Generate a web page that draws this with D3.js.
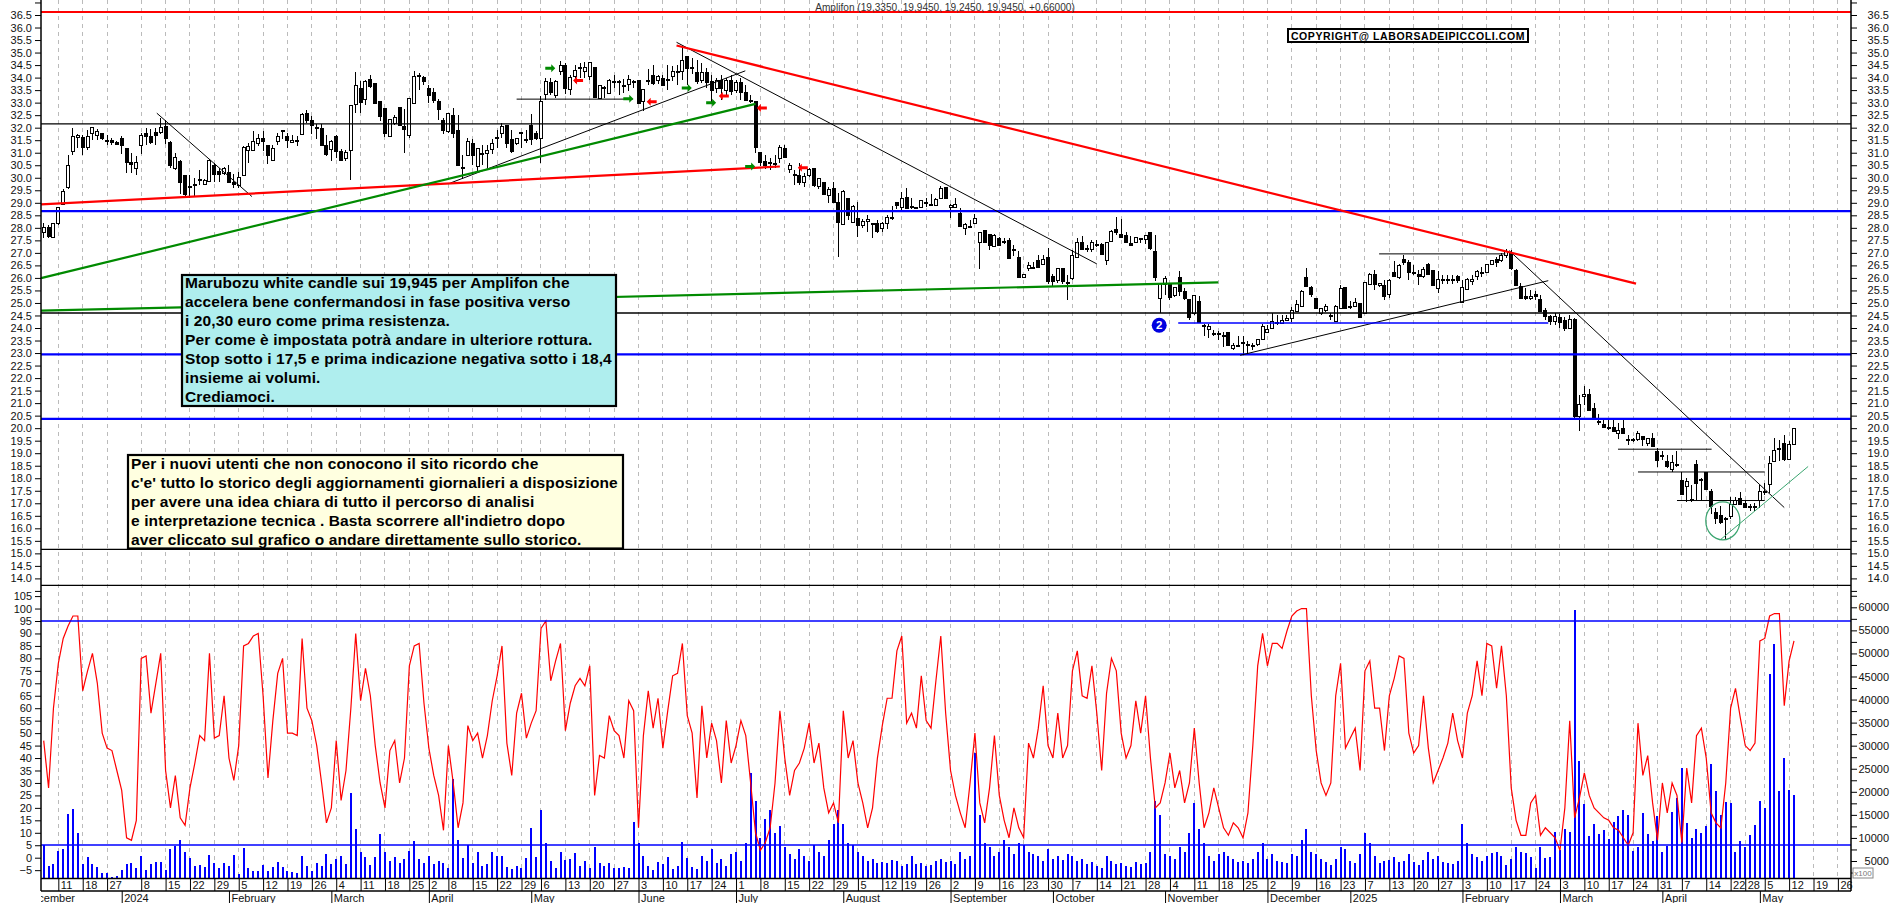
<!DOCTYPE html>
<html>
<head>
<meta charset="utf-8">
<title>Amplifon</title>
<script src="https://cdn.jsdelivr.net/npm/d3@7"></script>
<style>
  body { margin: 0; background: #fff; }
  svg { display: block; }
  text { font-family: "Liberation Sans", Arial, sans-serif; }
  .axis text { font-size: 11px; fill: #111; }
  .note { font-size: 15.5px; font-weight: bold; fill: #000; letter-spacing: 0.11px; }
</style>
</head>
<body>
<svg id="chart" width="1890" height="903"></svg>
<script>
// daily candles, one value per trading day
const opens = [
27.83,28,27.6,28.17,28.95,29.6,31.05,31.6,31.6,31.2,31.75,31.7,31.75,31.5,31.48,31.4,31.55,31.15,30.6,30.35,
31.3,31.75,31.65,31.8,31.8,32.05,31.4,30.35,30.65,30.1,29.67,29.75,29.95,29.75,29.87,30.5,30.25,30.18,30.2,29.83,
29.7,30.1,31.1,31.1,31.35,31.58,31.3,30.7,31.45,31.88,31.65,31.4,31.5,31.72,32.55,32.28,32,31.98,31.27,31.12,
31.63,31.05,30.78,31.09,32.94,33.55,33.14,33.93,33.75,33.03,32.75,31.65,32.15,32.8,32.04,31.7,32.98,34.1,34,33.55,
33.4,33.03,32.27,31.83,32.5,31.9,30.4,30.9,31.38,30.45,30.95,30.95,31.12,31.62,31.75,32.07,31.52,31.35,31.8,31.52,
32.1,31.75,31.58,33.33,33.8,33.28,34.25,34.5,33.53,34.04,34.4,34.25,34.05,34.42,33.18,33.62,33.38,33.85,33.85,33.7,
33.72,33.85,33.87,33.05,33.88,34.08,33.88,33.98,33.92,34.05,34.25,34.25,34.83,34.4,34.22,33.9,34.2,33.85,33.55,33.9,
33.5,33.9,33.5,33.8,33.4,33.1,33.03,31.02,30.65,30.6,30.57,30.78,31.18,30.34,30.12,30.09,29.82,30.09,30.38,29.65,
29.82,29.3,29.56,29.01,28.12,29.19,28.22,28.39,28.1,28.25,28.17,28.19,27.99,28.16,28.43,29,28.83,29.22,28.84,28.82,
28.81,29.02,28.94,28.91,29.19,29.62,28.83,28.8,28.56,27.98,28.06,28.16,27.42,27.88,27.72,27.26,27.56,27.47,27.48,27.12,
26.83,26.03,26.36,26.4,26.7,26.53,26.8,26.06,25.89,26.37,25.83,25.99,26.82,27.43,27.17,27.13,27.33,27.35,26.71,27.47,
27.92,27.72,27.71,27.37,27.42,27.58,27.55,27.83,27.07,25.16,25.73,25.73,25.3,26.03,25.44,25.12,24.56,25.04,24.1,23.94,
23.8,23.78,23.7,23.84,23.18,23.3,23.44,23.35,23.31,23.35,23.56,23.83,23.97,24.2,24.17,24.28,24.36,24.66,24.86,26.03,
25.63,25.16,24.56,24.69,24.5,24.27,24.76,25.63,24.87,24.84,24.96,24.57,25.72,26.15,25.68,25.69,25.33,26.23,26,26.75,
26.6,26.2,26.13,26.04,26.54,26.29,25.56,25.94,25.94,25.94,26.04,25.03,25.53,25.87,26.04,26.2,26.2,26.53,26.75,26.7,
26.9,27,26.29,25.66,25.27,25.16,25.33,25.13,24.7,24.45,24.25,24.4,24.3,24,24.35,20.47,21.26,21.34,20.78,20.25,
20.16,20.03,20.03,19.8,19.98,19.56,19.54,19.53,19.67,19.4,19.57,19.07,18.92,18.67,18.33,18.55,17.89,17.69,17.17,18.53,
17.95,18.22,17.49,16.63,16.53,16.41,16.46,16.97,17.2,16.99,16.86,16.86,17.1,17.46,17.76,18.67,19.17,19.4,18.76,19.35];
const highs = [
28.2,28.1,28.2,28.8,29.55,30.9,32,31.75,31.7,31.9,32,31.95,31.75,31.7,31.6,31.45,31.65,31.2,31,30.85,
31.8,32,31.95,32,32.4,32.3,31.45,31,30.7,30.1,30.1,30,30.3,29.95,30.75,30.6,30.4,30.42,30.5,30.15,
30.25,31.25,31.4,31.85,31.75,31.85,31.3,31.3,31.8,31.9,31.78,31.7,31.65,32.58,32.72,32.45,32.15,32.15,31.7,31.5,
31.72,31.15,31.1,32.9,34.24,33.85,33.9,34.1,33.75,33.05,32.75,32.35,32.5,32.8,32.75,33.2,34.25,34.2,34.05,33.7,
33.6,33.15,32.4,32.6,32.78,32.5,30.9,31.6,31.55,31.2,31.3,31.3,31.55,31.9,32.2,32.07,31.9,31.55,31.82,31.9,
32.55,31.85,33.25,34,34,33.9,34.68,34.6,34.1,34.5,34.6,34.62,34.62,34.42,33.7,33.65,33.95,34.1,33.9,33.95,
34.1,33.9,33.9,33.55,34.35,34.5,34.1,34.1,34.5,34.45,34.5,35.2,34.85,34.8,34.7,34.6,34.4,34.1,34,34.1,
34,34.1,33.9,34,33.7,33.3,33.05,31.02,30.9,30.8,30.9,31.3,31.3,30.6,30.3,30.58,30.2,30.4,30.4,30,
29.85,29.65,29.85,29.4,29.5,29.2,28.9,29.05,28.35,28.5,28.2,28.32,28.25,28.5,28.88,29.05,29.42,29.58,29.2,28.84,
29.12,29.2,29.35,29.2,29.69,29.65,28.95,29.2,28.8,28.2,28.32,28.55,27.85,27.9,27.75,27.75,27.65,27.6,27.6,27.33,
27.06,26.15,26.65,26.65,26.9,26.9,27.19,26.17,26.4,26.4,26.1,27.1,27.59,27.66,27.32,27.52,27.53,27.4,27.45,27.9,
28.45,28.35,27.85,27.66,27.65,27.6,27.7,27.85,27.72,25.8,26.06,25.75,25.65,26.29,25.6,25.15,25.3,25.26,24.15,24.17,
23.93,23.87,23.85,23.86,23.4,23.7,23.7,23.47,23.4,23.55,24.17,24.13,24.6,24.53,24.53,24.53,24.84,25.1,25.53,26.4,
25.66,25.18,24.8,24.97,24.6,24.93,25.73,25.65,25.06,25.2,24.98,25.85,26.2,26.33,25.8,25.9,25.95,26.66,26.55,26.9,
26.7,26.5,26.3,26.43,26.6,26.3,26.26,26.13,26.13,26.13,26.13,25.9,26,26.13,26.33,26.44,26.55,26.7,26.85,27,
27.15,27.1,26.35,25.8,25.6,25.53,25.47,25.33,24.8,24.5,24.6,24.55,24.45,24.5,24.4,21.34,21.67,21.57,21,20.56,
20.36,20.33,20.36,20.2,20.36,19.73,19.6,19.87,19.7,19.62,19.8,19.2,19.07,18.93,18.93,19.1,18.26,18.02,17.73,18.73,
18,18.25,17.56,16.8,16.89,16.45,17.24,17.24,17.46,17.13,16.99,17,17.73,17.8,18.87,19.6,19.53,19.73,19.5,20];
const lows = [
27.6,27.6,27.6,28.1,28.9,29.55,30.9,31.2,30.9,31.1,31.5,31.5,31.5,31.3,31.3,31.3,30.95,30.2,30.2,30.1,
30.95,31.3,31.35,31.3,31.75,31.35,30.4,30.3,29.35,29.2,29.2,29.25,29.7,29.7,29.85,29.85,29.85,30.1,29.8,29.6,
29.6,30.1,30.6,31.05,31.25,31.05,30.55,30.7,31.3,31.55,31.2,31.4,31.25,31.7,32.2,31.75,31.55,31.25,30.85,30.65,
30.8,30.65,30.65,29.92,32.6,32.6,32.9,33.6,32.98,32.25,31.62,31.65,32.1,32.05,31,31.6,32.98,33.5,33.7,33,
33,32.3,31.75,31.8,31.6,30.5,29.95,30.9,30.5,30.2,30.5,30.4,30.95,31.2,31.6,31.2,31,31.3,31.2,31.4,
31.3,31.5,30.58,33.1,33.3,33.2,34.1,33.35,33.3,33.8,34,34,33.9,33.2,33.15,33.2,33.35,33.6,33.3,33.4,
33.45,33.6,32.95,32.65,33.7,33.7,33.75,33.65,33.5,33.85,33.7,33.9,33.7,34.15,33.75,33.8,33.6,33,33.4,33.1,
33.3,33.3,33.4,33.1,33.05,33,31,30.45,30.35,30.32,30.38,30.6,30.8,30.18,29.72,29.72,29.65,30.05,29.65,29.55,
29.3,29,29,26.82,28.1,28.3,28.2,27.62,28,27.85,27.58,27.8,27.85,27.97,28.3,28.75,28.72,28.75,28.75,28.78,
28.78,28.85,28.88,28.88,29.15,29.15,28.4,28.78,28.05,27.72,28,28.15,26.37,27.4,27.13,27.25,27.28,27.36,26.75,26.86,
26,26,26.26,26.36,26.38,26.5,25.77,25.66,25.8,25.75,25.1,25.9,26.8,27.1,27.02,27.02,27.25,26.9,26.53,27.45,
27.72,27.6,27.4,27.3,27.4,27.39,27.37,27.13,25.86,24.6,25.33,25.13,25.25,25.29,25.1,24.3,24.5,24.18,23.67,23.6,
23.7,23.53,23.23,23.28,23.13,23.27,22.94,22.94,23.13,23.3,23.55,23.8,23.95,24.1,24.15,24.27,24.23,24.65,24.85,25.65,
25.24,24.75,24.5,24.65,24.33,24.25,24.75,24.74,24.76,24.82,24.38,24.55,25.7,25.5,25.65,25.13,25.2,26.05,25.95,26.5,
25.93,26.1,25.7,26,26.14,25.7,25.4,25.77,25.77,25.77,25.8,25,25.5,25.7,25.93,26.04,26.18,26.5,26.44,26.65,
26.8,26.3,25.7,25.14,25.1,25.1,25.13,24.65,24.3,24.1,24.1,24,23.9,23.95,20.4,19.9,20.94,20.7,20.38,20.14,
20,19.94,19.85,19.57,19.75,19.33,19.43,19.5,19.3,19.3,19.25,18.44,18.73,18.4,18.26,18.44,17.33,17.06,17.06,17.13,
17.13,17.53,16.59,16.19,16.19,15.59,16.39,16.93,16.95,16.8,16.7,16.7,16.83,17.33,17.4,18.65,18.67,18.7,18.74,19.35];
const closes = [
28,27.65,28.17,28.8,29.45,30.5,31.65,31.7,31.2,31.65,32,31.85,31.58,31.45,31.42,31.32,31.3,30.6,30.52,30.6,
31.67,31.65,31.4,31.68,32,31.55,30.5,30.8,29.8,29.35,29.65,29.72,29.92,29.9,30.7,30.15,30.12,30.38,29.8,29.75,
30,31.2,31.25,31.45,31.55,31.45,30.9,31.17,31.65,31.84,31.5,31.5,31.46,32.52,32.3,32.08,31.97,31.28,30.93,31.45,
31.05,30.7,31,32.87,33.68,33,33.84,33.66,32.98,32.45,31.75,32.34,32.42,32.08,31.94,33.18,34.05,34.05,33.83,33.3,
33.1,32.72,31.9,32.58,31.75,30.5,30.37,31.45,30.88,31.15,30.92,31.1,31.38,31.6,32.05,31.38,31.05,31.55,31.77,31.5,
31.52,31.57,33.03,33.84,33.4,33.84,34.5,33.55,34,34.3,34.37,34.4,34.6,33.2,33.68,33.6,33.9,33.82,33.83,33.68,
33.92,33.82,32.98,33.52,33.85,33.75,34.05,33.68,33.9,34.25,34.22,34.68,34.37,34.38,33.85,34.2,33.8,33.5,33.9,33.55,
33.9,33.45,33.8,33.4,33.1,33.05,31.2,30.62,30.48,30.58,30.55,31.22,30.8,30.48,30.1,29.81,30.05,30.32,29.69,29.98,
29.32,29.52,29.01,28.2,29.47,28.5,28.85,28.1,28.25,28.35,28.15,27.86,28.19,28.43,28.42,28.9,29.19,28.76,28.82,28.8,
29.09,29,28.92,29.15,29.57,29.16,28.9,28.95,28.05,28.13,28.05,28.39,27.83,27.42,27.3,27.71,27.3,27.45,26.77,27.1,
26.02,26.13,26.5,26.38,26.4,26.73,25.86,25.86,26.37,25.86,25.81,26.91,27.43,27.13,27.15,27.43,27.3,26.93,27.42,27.86,
27.82,27.62,27.42,27.31,27.63,27.52,27.68,27.19,26.03,25.77,25.96,25.2,25.6,25.46,25.16,24.43,25.28,24.2,24.04,24.07,
23.76,23.76,23.68,23.3,23.31,23.28,23.42,23.32,23.3,23.53,24.07,23.96,24.24,24.18,24.28,24.36,24.68,24.92,25.44,25.66,
25.33,24.79,24.79,24.85,24.48,24.87,25.56,24.76,24.85,25,24.4,25.8,26.15,25.72,25.76,25.26,25.89,26.06,26.49,26.62,
26.22,26.18,26.06,26.33,26.14,25.7,25.93,25.92,25.92,25.92,25.91,25.6,25.93,25.95,26.24,26.2,26.53,26.69,26.6,26.9,
27.05,26.36,25.7,25.16,25.16,25.27,25.27,24.67,24.45,24.25,24.45,24.2,24,24.35,20.47,20.94,21.34,20.71,20.4,20.23,
20.03,20,19.87,19.9,19.78,19.54,19.52,19.77,19.56,19.6,19.27,18.7,18.9,18.47,18.64,18.53,17.36,17.86,17.15,17.8,
17.93,17.57,16.86,16.39,16.22,16.39,16.97,17.1,16.97,16.82,16.84,16.84,17.46,17.44,18.6,19.11,19.15,18.73,19.33,20];

// red indicator in the lower panel
const oscillator = [
47,28,60,78,88,93,97,97,67,75,82,70,50,44,43,35,27,8,7,15,
80,81,58,70,82,35,20,33,16,13,28,38,49,47,82,48,49,65,40,31,
45,85,86,89,90,65,32,55,74,80,50,50,49,88,60,55,45,30,14,20,
47,23,35,60,90,63,76,65,45,30,20,43,47,30,40,77,85,86,62,44,
33,25,11,45,30,12,22,53,47,50,40,49,63,73,85,46,33,58,66,48,
54,59,92,95,71,79,86,51,62,69,72,69,77,25,41,40,57,51,49,40,
63,59,12,49,67,52,64,44,59,73,74,86,57,50,24,61,40,54,47,30,
55,38,45,55,49,30,10,3,6,12,30,59,40,25,35,38,44,54,38,46,
28,18,22,14,59,40,47,30,22,12,20,40,53,64,64,83,89,54,58,52,
73,55,52,71,89,58,35,25,18,12,30,50,22,14,28,49,25,15,8,20,
12,8,46,40,52,69,45,40,58,40,45,75,83,65,64,77,58,35,66,80,
75,50,40,45,63,50,65,40,20,22,30,42,28,35,22,30,52,30,12,18,
28,20,12,9,14,12,8,18,45,77,90,77,86,86,84,91,97,99,100,100,
65,43,30,25,30,65,78,44,48,52,35,75,79,60,60,43,65,72,81,80,
50,42,45,65,44,30,35,40,46,58,47,40,58,65,79,65,86,85,68,85,
65,28,15,9,9,22,25,9,12,10,8,3,20,55,16,24,34,25,20,18,
16,15,12,11,8,5,10,54,33,41,22,7,30,18,30,25,6,36,22,49,
52,40,18,14,12,30,60,68,56,45,43,46,87,88,97,98,98,61,79,87];

const volumes = [
8400,3900,4350,7150,7500,15100,16300,11000,4400,5950,4400,3650,2350,2400,1600,1750,3050,4350,4500,3550,
6100,3050,4300,4700,4850,3150,7650,8200,9650,6950,5700,3900,4200,3800,6300,4550,3400,4550,3850,6200,
2250,7800,3400,2850,2900,4050,2900,3800,4850,3800,2900,2700,2500,6100,3900,2900,4500,3900,6450,4300,
5500,6100,4350,19700,11900,6850,5800,4100,5800,10800,6950,5000,5800,4650,5350,7150,9400,5400,4650,6100,
4350,5000,4650,3400,22700,9650,5550,8400,4500,6850,3900,4350,6950,6100,6100,3700,3350,3900,3450,5550,
12200,5800,16000,8800,5050,3550,6850,5200,5500,6650,3900,4950,3450,7950,4650,3900,4500,3450,3450,3650,
3400,13550,9000,6100,3900,3000,4700,4350,5800,3250,3900,9100,5550,3750,3200,6000,5000,7500,4500,5500,
4000,6500,7000,5000,9000,24000,18000,10000,14000,16000,11000,12500,8000,6500,5500,7500,6000,5000,8500,7000,
6000,9500,13000,16000,13000,9000,8500,7000,6000,5000,5500,4500,4800,4600,5200,5000,4000,4300,6000,4300,
4500,4000,4200,5000,5500,4800,5000,4400,7000,5400,6000,28500,15000,9000,8000,6000,7000,9500,8000,6500,
9000,8500,7000,6500,6000,5000,7500,5500,6000,5200,6500,6000,5000,5500,4300,4800,4000,3500,6000,5000,
4300,4500,4000,3600,4800,4300,4500,7000,18000,15000,6500,6000,5500,8000,7000,11000,17500,12000,9000,6000,
5000,6500,7000,6000,5500,4800,5000,4500,5500,7000,9000,5500,6500,5000,4800,4500,6500,6000,9500,12000,
7000,6500,5500,4800,4200,5500,8000,7500,5000,4500,6500,11000,9000,6000,4500,5000,5200,5800,4800,5000,
6500,4800,4200,5200,7000,5500,6000,4800,4500,4300,5000,13000,9000,6500,5800,5000,6000,6800,7000,6080,
4130,5430,8110,7020,6660,5940,3410,8110,5580,5940,11360,7390,11930,11360,59410,26680,17350,10420,13020,10850,
11720,9700,13530,14830,16050,14970,7240,7960,15480,10780,9340,14750,7020,8250,15550,18730,25230,13310,10060,11930,
11000,12660,26030,20250,14970,17720,17500,6880,9340,7960,10560,12800,18080,16560,45540,52040,20250,27400,20390,19310];

// weekly ticks: bar number and day label
const tickBars = [3,8,13,20,25,30,35,40,45,50,55,60,65,70,75,79,83,88,93,98,102,107,112,117,122,127,132,137,142,147,152,157,162,167,172,176,181,186,191,196,201,206,211,216,221,226,231,236,241,246,251,256,261,266,271,276,281,286,291,296,301,306,311,316,321,326,331,336,341,346,349,353,358,363,368];
const tickLabels = ["11","18","27","8","15","22","29","5","12","19","26","4","11","18","25","2","8","15","22","29","6","13","20","27","3","10","17","24","1","8","15","22","29","5","12","19","26","2","9","16","23","30","7","14","21","28","4","11","18","25","2","9","16","23","7","13","20","27","3","10","17","24","3","10","17","24","31","7","14","22","28","5","12","19","26"];
const monthBars = [-4.5,16,38,59,79,100,122,142,164,186,207,230,251,268,291,311,332,352];
const monthLabels = ["December","2024","February","March","April","May","June","July","August","September","October","November","December","2025","February","March","April","May"];

// horizontal levels
const redLevels = [36.62];
const blueLevels = [28.67,22.95,20.37];
const blackLevels = [32.15,24.6,15.16,13.72];

// trend lines, each as two bars and two prices
const redTrendBars = [[-0.55,151],[129.8,326.6]];
const redTrendPrices = [[28.94,30.45],[35.28,25.77]];
const greenTrendBars = [[-0.55,146],[-0.55,240.9]];
const greenTrendPrices = [[25.99,32.95],[24.69,25.82]];
const blackTrendBars = [[83.4,143.9],[129.8,216],[23.2,42.7],[97,120.9],[245.4,308.6],[273.9,299.8],[300.6,357],[322.9,342.1],[327,353],[335,353]];
const blackTrendPrices = [[29.79,34.27],[35.41,26.56],[32.58,29.25],[33.14,33.14],[22.91,25.89],[26.96,26.96],[27.09,16.83],[19.16,19.16],[18.25,18.25],[17.11,17.11]];
const supportBars = [232.7,308.6];
const supportPrice = 24.2;
const recoveryBars = [344,361.9];
const recoveryPrices = [15.56,18.47];
const circleBar = 344.4, circlePrice = 16.3, circleBars = 3.5, circleSpan = 0.76;

// signal arrows and the numbered marker
const buyBars = [103.9,119.9,131.9,136.9,144.9];
const buyPrices = [34.37,33.16,33.58,33,30.45];
const sellBars = [109.6,124.7,139.5,147.3,155.7];
const sellPrices = [33.88,33.04,33.27,32.79,30.4];
const badgeBar = 228.8, badgePrice = 24.11;

const indicatorLevels = [95];
const volumeLevels = [8470];

const note1 = ["Marubozu white candle sui 19,945 per Amplifon che","accelera bene confermandosi in fase positiva verso","i 20,30 euro come prima resistenza.","Per come è impostata potrà andare in ulteriore rottura.","Stop sotto i 17,5 e prima indicazione negativa sotto i 18,4","insieme ai volumi.","Crediamoci."];
const note2 = ["Per i nuovi utenti che non conocono il sito ricordo che","c'e' tutto lo storico degli aggiornamenti giornalieri a disposizione","per avere una idea chiara di tutto il percorso di analisi","e interpretazione tecnica . Basta scorrere all'indietro dopo","aver cliccato sul grafico o andare direttamente sullo storico."];

var left = 41, right = 1851, bottom = 878.5;

var x = d3.scaleLinear().domain([0, 359]).range([43.7, 1794]);
var yPrice = d3.scaleLinear().domain([36.5, 14]).range([15, 578.4]);
var yOsc = d3.scaleLinear().domain([95, 0]).range([621, 857.7]);
var yVol = d3.scaleLinear().domain([60000, 5000]).range([607.3, 861]);

var svg = d3.select("#chart");
svg.append("rect").attr("width", 1890).attr("height", 903).attr("fill", "#fff");

// dashed week grid
svg.append("g").selectAll("line").data(tickBars).enter().append("line")
    .attr("x1", d => x(d)).attr("x2", d => x(d))
    .attr("y1", 0).attr("y2", bottom)
    .attr("stroke", "#bbb").attr("stroke-dasharray", "4,4")
    .attr("shape-rendering", "crispEdges");

// volume bars, below the indicator line
svg.append("g").selectAll("rect").data(volumes).enter().append("rect")
    .attr("x", (d, i) => x(i) - 1)
    .attr("width", 2)
    .attr("y", d => yVol(d))
    .attr("height", d => bottom - yVol(d))
    .attr("fill", "#0000ff")
    .attr("shape-rendering", "crispEdges");

svg.append("path").datum(oscillator)
    .attr("fill", "none").attr("stroke", "#ff0000").attr("stroke-width", 1.2)
    .attr("d", d3.line().x((d, i) => x(i)).y(d => yOsc(d)));

// candles
var candles = svg.append("g").selectAll("g").data(d3.range(opens.length)).enter().append("g");
candles.append("line")
    .attr("x1", d => x(d)).attr("x2", d => x(d))
    .attr("y1", d => yPrice(highs[d])).attr("y2", d => yPrice(lows[d]))
    .attr("stroke", "#000").attr("shape-rendering", "crispEdges");
candles.append("rect")
    .attr("x", d => x(d) - 1.5)
    .attr("width", 3)
    .attr("y", d => yPrice(Math.max(opens[d], closes[d])))
    .attr("height", d => Math.max(1, Math.abs(yPrice(opens[d]) - yPrice(closes[d]))))
    .attr("fill", d => closes[d] >= opens[d] ? "#fff" : "#000")
    .attr("stroke", "#000").attr("stroke-width", 1)
    .attr("shape-rendering", "crispEdges");

// horizontal levels
function levels(data, scale, color, width) {
    svg.append("g").selectAll("line").data(data).enter().append("line")
        .attr("x1", left).attr("x2", right)
        .attr("y1", d => scale(d)).attr("y2", d => scale(d))
        .attr("stroke", color).attr("stroke-width", width);
}
levels(redLevels, yPrice, "#ff0000", 2.2);
levels(blueLevels, yPrice, "#0000ff", 2.2);
levels(blackLevels, yPrice, "#000", 1.4);
levels(indicatorLevels, yOsc, "#0000ff", 1.4);
levels(volumeLevels, yVol, "#0000ff", 1.4);

function trends(bars, prices, color, width) {
    svg.append("g").selectAll("line").data(bars).enter().append("line")
        .attr("x1", d => x(d[0])).attr("x2", d => x(d[1]))
        .attr("y1", (d, i) => yPrice(prices[i][0])).attr("y2", (d, i) => yPrice(prices[i][1]))
        .attr("stroke", color).attr("stroke-width", width);
}
trends(blackTrendBars, blackTrendPrices, "#000", 1);
trends([supportBars], [[supportPrice, supportPrice]], "#0000ff", 1.3);
trends(redTrendBars, redTrendPrices, "#ff0000", 2.2);
trends(greenTrendBars, greenTrendPrices, "#008a00", 2.2);
trends([recoveryBars], [recoveryPrices], "#3aa56f", 1);

svg.append("ellipse")
    .attr("cx", x(circleBar)).attr("cy", yPrice(circlePrice))
    .attr("rx", x(circleBars) - x(0)).attr("ry", yPrice(circlePrice - circleSpan) - yPrice(circlePrice))
    .attr("fill", "none").attr("stroke", "#3aa56f").attr("stroke-width", 1.2);

// arrows
svg.append("g").selectAll("path").data(buyBars).enter().append("path")
    .attr("transform", (d, i) => "translate(" + x(d) + "," + yPrice(buyPrices[i]) + ")")
    .attr("d", "M-5,-1.5H1V-4L5,0L1,4V1.5H-5Z").attr("fill", "#008a00");
svg.append("g").selectAll("path").data(sellBars).enter().append("path")
    .attr("transform", (d, i) => "translate(" + x(d) + "," + yPrice(sellPrices[i]) + ")")
    .attr("d", "M5,-1.5H-1V-4L-5,0L-1,4V1.5H5Z").attr("fill", "#ff0000");

svg.append("circle").attr("cx", x(badgeBar)).attr("cy", yPrice(badgePrice)).attr("r", 7.5).attr("fill", "#0000e0");
svg.append("text").attr("x", x(badgeBar)).attr("y", yPrice(badgePrice) + 4)
    .attr("text-anchor", "middle").attr("fill", "#fff")
    .style("font-size", "11.5px").style("font-weight", "bold").text("2");

// axes
function priceLabel(d) { return (d > 36.5 || d < 14) ? "" : d.toFixed(1); }
function volumeLabel(d) { return d % 5000 == 0 ? d : ""; }
var priceTicks = d3.range(13.5, 37.5, 0.5);

svg.append("g").attr("class", "axis").attr("transform", "translate(" + left + ",0)")
    .call(d3.axisLeft(yPrice).tickValues(priceTicks).tickFormat(priceLabel).tickSize(6).tickSizeOuter(0));
svg.append("g").attr("class", "axis").attr("transform", "translate(" + left + ",0)")
    .call(d3.axisLeft(yOsc).tickValues(d3.range(-5, 110, 5)).tickSize(6).tickSizeOuter(0));
var priceRight = svg.append("g").attr("class", "axis").attr("transform", "translate(" + right + ",0)")
    .call(d3.axisRight(yPrice).tickValues(priceTicks).tickFormat(priceLabel).tickSize(6).tickSizeOuter(0));
var volRight = svg.append("g").attr("class", "axis").attr("transform", "translate(" + right + ",0)")
    .call(d3.axisRight(yVol).tickValues(d3.range(2500, 65000, 2500)).tickFormat(volumeLabel).tickSize(6).tickSizeOuter(0));
priceRight.selectAll("text").attr("text-anchor", "end").attr("x", 38);
volRight.selectAll("text").attr("text-anchor", "end").attr("x", 38);
svg.selectAll(".axis .domain").remove();

var dayAxis = svg.append("g").attr("class", "axis").attr("transform", "translate(0," + bottom + ")")
    .call(d3.axisBottom(x).tickValues(tickBars).tickFormat((d, i) => tickLabels[i]).tickSize(12.5));
dayAxis.select(".domain").remove();
dayAxis.selectAll("text").attr("text-anchor", "start").attr("x", 2).attr("y", 1).attr("dy", "0.9em");

var monthAxis = svg.append("g").attr("class", "axis")
    .attr("transform", "translate(0,891)")
    .call(d3.axisBottom(x).tickValues(monthBars).tickFormat((d, i) => monthLabels[i]).tickSize(12));
monthAxis.select(".domain").remove();
monthAxis.selectAll("text").attr("text-anchor", "start").attr("x", 2).attr("y", 1).attr("dy", "0.9em");
monthAxis.selectAll(".tick").filter((d, i) => i == 0).select("line").remove();

// frame and axis rules
[[left, 0, left, 891], [right, 0, right, 891], [left, bottom, right, bottom], [left, 891, right, 891]].forEach(function (r) {
    svg.append("line").attr("x1", r[0]).attr("y1", r[1]).attr("x2", r[2]).attr("y2", r[3])
        .attr("stroke", "#000").attr("stroke-width", 1.5);
});
// white strip hides the part of the first month name left of the axis
svg.append("rect").attr("x", 0).attr("y", 892).attr("width", left).attr("height", 11).attr("fill", "#fff");

svg.append("rect").attr("x", 1853).attr("y", 868).attr("width", 20).attr("height", 10)
    .attr("fill", "#fff").attr("stroke", "#888");
svg.append("text").attr("x", 1863).attr("y", 876).attr("text-anchor", "middle")
    .attr("fill", "#777").style("font-size", "8px").text("x100");

// header and copyright
svg.append("text").attr("x", 945).attr("y", 11).attr("text-anchor", "middle")
    .attr("fill", "#333").style("font-size", "10.1px")
    .text("Amplifon (19,3350, 19,9450, 19,2450, 19,9450, +0,66000)");
svg.append("rect").attr("x", 1287).attr("y", 28).attr("width", 242).attr("height", 15).attr("fill", "#000");
svg.append("rect").attr("x", 1289).attr("y", 30).attr("width", 238).attr("height", 11).attr("fill", "#fff");
svg.append("text").attr("x", 1408).attr("y", 39.5).attr("text-anchor", "middle")
    .attr("fill", "#000").style("font-size", "10.5px").style("font-weight", "bold").style("letter-spacing", "0.6px")
    .text("COPYRIGHT@ LABORSADEIPICCOLI.COM");

// comment boxes
function noteBox(lines, bx, by, bw, bh, fill, firstLine) {
    svg.append("rect").attr("x", bx).attr("y", by).attr("width", bw).attr("height", bh)
        .attr("fill", fill).attr("stroke", "#000").attr("stroke-width", 2.2);
    svg.append("g").selectAll("text").data(lines).enter().append("text")
        .attr("class", "note")
        .attr("x", bx + 3).attr("y", (d, i) => firstLine + i * 19)
        .text(d => d);
}
noteBox(note1, 182, 275, 434, 131, "#afeeee", 288);
noteBox(note2, 128, 455, 495, 93.5, "#ffffe0", 469);
</script>
</body>
</html>
